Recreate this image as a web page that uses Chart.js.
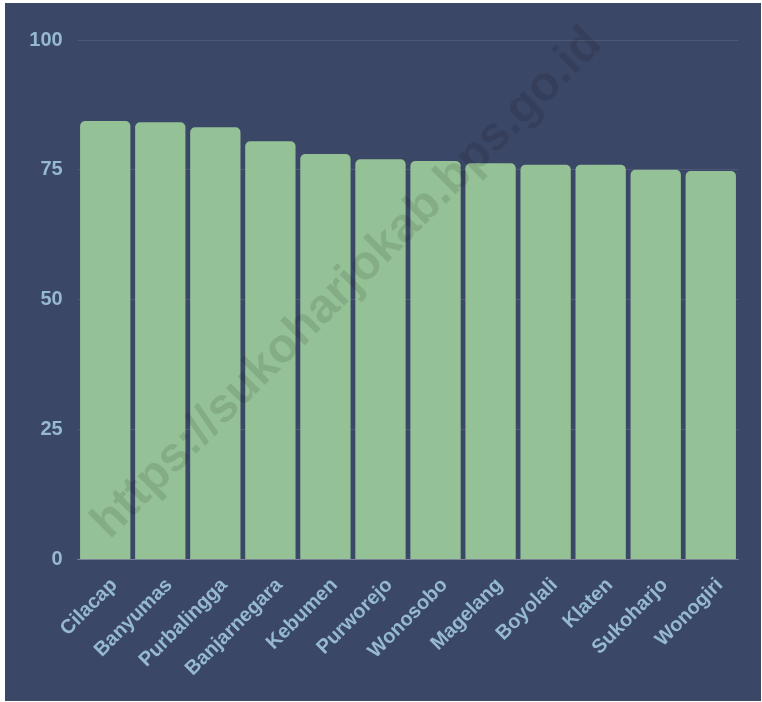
<!DOCTYPE html>
<html>
<head>
<meta charset="utf-8">
<title>Kabupaten</title>
<script src="https://cdn.jsdelivr.net/npm/chart.js@4/dist/chart.umd.min.js"></script>
<style>
  html, body { margin: 0; padding: 0; background: #ffffff; }
  #wrap {
    position: absolute; left: 5px; top: 3px;
    width: 756px; height: 698px;
    background: #3b4766;
  }
</style>
</head>
<body>
<div id="wrap"><canvas id="chart" width="756" height="698"></canvas></div>
<script>
// regencies, sorted high to low
const regions = ['Cilacap', 'Banyumas', 'Purbalingga', 'Banjarnegara', 'Kebumen', 'Purworejo',
  'Wonosobo', 'Magelang', 'Boyolali', 'Klaten', 'Sukoharjo', 'Wonogiri'];
const values = [84.41, 84.16, 83.19, 80.50, 78.06, 77.04, 76.71, 76.27, 76.00, 75.98, 75.03, 74.78];
const yTicks = [0, 25, 50, 75, 100];

const labelColor = '#96b9d2';
const labelFont = { family: "'Liberation Sans', Arial, sans-serif", size: 20, weight: 'bold' };
const xLabelFont = { ...labelFont, lineHeight: 1.27 };

// diagonal site stamp over the plot
const watermark = {
  id: 'watermark',
  afterDraw(chart) {
    const ctx = chart.ctx;
    ctx.save();
    ctx.translate(342.5, 280.5);
    ctx.rotate(-Math.PI / 4);
    ctx.font = "bold 48px 'Liberation Sans', Arial, sans-serif";
    ctx.fillStyle = 'rgba(0, 0, 0, 0.1)';
    ctx.textAlign = 'center';
    ctx.textBaseline = 'middle';
    ctx.fillText('https://sukoharjokab.bps.go.id', 0, 0);
    ctx.restore();
  }
};

new Chart(document.getElementById('chart'), {
  type: 'bar',
  data: {
    labels: regions,
    datasets: [{
      data: values,
      backgroundColor: '#94c196',
      borderRadius: 5,
      barPercentage: 0.914,
      categoryPercentage: 1
    }]
  },
  options: {
    responsive: false,
    animation: false,
    layout: { padding: { top: 37, right: 22.7, bottom: 0, left: 0 } },
    plugins: { legend: { display: false }, tooltip: { enabled: false } },
    scales: {
      x: {
        grid: { display: false },
        border: { display: true, color: 'rgba(255,255,255,0.25)', width: 1 },
        ticks: {
          color: labelColor, font: xLabelFont,
          minRotation: 45, maxRotation: 45, autoSkip: false, padding: 5.5,
          // a clear backdrop keeps the slanted names anchored right of the bar centre
          showLabelBackdrop: true, backdropColor: 'rgba(0,0,0,0)', backdropPadding: 0
        },
        afterFit(scale) { scale.height = 141.5; }
      },
      y: {
        min: 0, max: 100,
        afterBuildTicks(scale) { scale.ticks = yTicks.map(v => ({ value: v })); },
        grid: { color: 'rgba(255,255,255,0.1)', drawTicks: false },
        border: { display: false },
        ticks: { color: labelColor, font: labelFont, padding: 15 },
        afterFit(scale) { scale.width = 72.7; }
      }
    }
  },
  plugins: [watermark]
});
</script>
</body>
</html>
